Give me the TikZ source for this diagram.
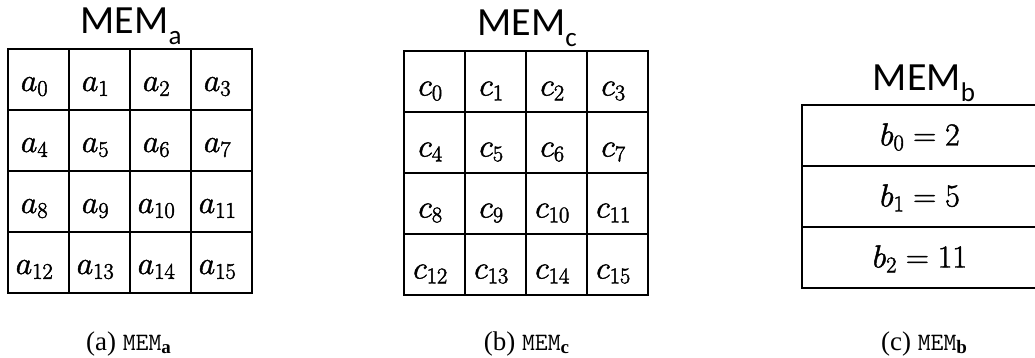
\RequirePackage{fix-cm}
\documentclass[tikz,border=0pt]{standalone}
\usepackage{fontspec}
\newfontfamily\calib{Carlito}
\newfontfamily\capserif{Liberation Serif}
\newcommand{\heavyon}{\special{pdf:literal direct 2 Tr 0.45 w}}
\newcommand{\heavyoff}{\special{pdf:literal direct 0 Tr}}
\begin{document}
\begin{tikzpicture}[x=1pt,y=-1pt,
  cellbase/.style={draw,line width=2pt,inner sep=0pt,font=\fontsize{32}{32}\selectfont,
    execute at begin node={\heavyon}},
  acell/.style={cellbase,minimum width=61pt,minimum height=61pt,text height=30pt,text depth=7pt,execute at end node={\heavyoff\kern8pt}},
  ccell/.style={cellbase,minimum width=61pt,minimum height=61pt,text height=33pt,text depth=5pt,execute at end node={\heavyoff\kern8pt}},
  bcell/.style={cellbase,minimum width=236pt,minimum height=61pt,text height=27pt,text depth=7pt,execute at end node={\heavyoff}},
  title/.style={anchor=base,inner sep=0pt,font=\calib\fontsize{40}{40}\selectfont},
  capt/.style={anchor=base,inner sep=0pt,font=\capserif\fontsize{27}{27}\selectfont}]
\useasboundingbox (0,0) rectangle (1035,358);
% grid a
\foreach \k in {0,...,15}{
  \pgfmathtruncatemacro{\col}{mod(\k,4)}
  \pgfmathtruncatemacro{\row}{div(\k,4)}
  \node[acell] (a\k) at ({8+61*(\col+0.5)},{49+61*(\row+0.5)}) {$a_{\k}$};
}
% grid c
\foreach \k in {0,...,15}{
  \pgfmathtruncatemacro{\col}{mod(\k,4)}
  \pgfmathtruncatemacro{\row}{div(\k,4)}
  \node[ccell] (c\k) at ({404+61*(\col+0.5)},{51+61*(\row+0.5)}) {$c_{\k}$};
}
% column b
\node[bcell] (b0) at (920,135.5) {$b_0=2$};
\node[bcell] (b1) at (920,196.5) {$b_1=5$};
\node[bcell] (b2) at (920,257.5) {$b_2=11$};
% titles
\node[title] (ta) at (131,34) {MEM\raisebox{-11pt}{\fontsize{27}{27}\selectfont a}};
\node[title] (tc) at (527,36) {MEM\raisebox{-11pt}{\fontsize{27}{27}\selectfont c}};
\node[title] (tb) at (924,91) {MEM\raisebox{-11pt}{\fontsize{27}{27}\selectfont b}};
% captions
\node[capt] (capa) at (128.5,350.5) {(a) {\ttfamily\fontsize{25}{25}\selectfont MEM}\raisebox{-3pt}{\bfseries\fontsize{19}{19}\selectfont a}};
\node[capt] (capb) at (526.5,350.5) {(b) {\ttfamily\fontsize{25}{25}\selectfont MEM}\raisebox{-3pt}{\bfseries\fontsize{19}{19}\selectfont c}};
\node[capt] (capc) at (924,350.5) {(c) {\ttfamily\fontsize{25}{25}\selectfont MEM}\raisebox{-3pt}{\bfseries\fontsize{19}{19}\selectfont b}};
\end{tikzpicture}
\end{document}
